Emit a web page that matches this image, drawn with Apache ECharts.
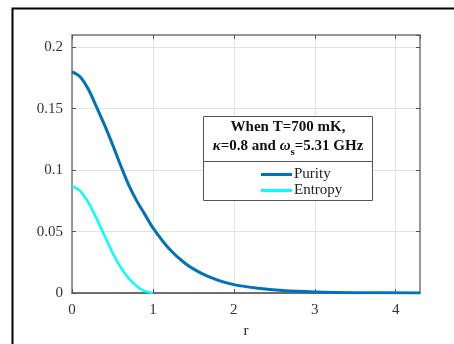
<!DOCTYPE html>
<html>
<head>
<meta charset="utf-8">
<script src="https://cdn.jsdelivr.net/npm/echarts@6/dist/echarts.min.js"></script>
<style>
  html, body { margin: 0; padding: 0; background: #fff; }
  #chart { width: 454px; height: 344px; }
</style>
</head>
<body>
<div id="chart"></div>
<script>
// values
const purityR = [0, 0.1, 0.2, 0.3, 0.4, 0.5, 0.6, 0.7, 0.8, 0.9, 1.0, 1.2, 1.4, 1.6, 1.8, 2.0, 2.3, 2.6, 3.0, 3.5, 4.3];
const purityVals = [0.18, 0.176, 0.166, 0.152, 0.137, 0.121, 0.104, 0.088, 0.075, 0.064, 0.053, 0.036, 0.024, 0.016, 0.0105, 0.0068, 0.0038, 0.002, 0.0009, 0.0003, 0.0001];
const entropyR = [0, 0.1, 0.2, 0.3, 0.4, 0.5, 0.6, 0.7, 0.8, 0.9, 1.0];
const entropyVals = [0.087, 0.083, 0.074, 0.061, 0.047, 0.033, 0.021, 0.012, 0.0055, 0.0015, 0];
const xTicks = [0, 1, 2, 3, 4];
const yTicks = [0, 0.05, 0.1, 0.15, 0.2];

const serif = '"Liberation Serif", "DejaVu Serif", serif';
const axisGray = '#7a7a7a';

const chart = echarts.init(document.getElementById('chart'));

const pairs = (xs, ys) => xs.map((x, i) => [x, ys[i]]);

const yLabel = v => yTicks.includes(+v.toFixed(4)) ? String(+v.toFixed(2)) : '';
const xLabel = v => xTicks.includes(v) ? String(v) : '';
const tick = { show: true, inside: true, length: 4, lineStyle: { color: '#555', width: 1 } };

chart.setOption({
  animation: false,
  backgroundColor: '#fff',
  grid: { left: 72, top: 35, right: 34, bottom: 46, containLabel: false },
  xAxis: [
    {
      type: 'value', min: 0, max: 4.3, interval: 1,
      name: 'r', nameLocation: 'middle', nameGap: 31,
      nameTextStyle: { fontFamily: serif, fontSize: 15, color: '#222' },
      axisLine: { onZero: false, lineStyle: { color: '#444', width: 1.5 } },
      axisTick: tick,
      axisLabel: { formatter: xLabel, fontFamily: serif, fontSize: 15, color: '#333', margin: 10, showMaxLabel: false },
      splitLine: { show: true, lineStyle: { color: '#e3e3e3', width: 1 } }
    },
    {
      type: 'value', min: 0, max: 4.3, interval: 1, position: 'top',
      axisLine: { show: true, onZero: false, lineStyle: { color: axisGray, width: 1.5 } },
      axisTick: tick,
      axisLabel: { show: false },
      splitLine: { show: false }
    }
  ],
  yAxis: [
    {
      type: 'value', min: 0, max: 0.21, interval: 0.05,
      axisLine: { show: true, onZero: false, lineStyle: { color: axisGray, width: 1.5 } },
      axisTick: tick,
      axisLabel: { formatter: yLabel, fontFamily: serif, fontSize: 15, color: '#333', margin: 9, showMaxLabel: false },
      splitLine: { show: true, lineStyle: { color: '#e3e3e3', width: 1 } }
    },
    {
      type: 'value', min: 0, max: 0.21, interval: 0.05, position: 'right',
      axisLine: { show: true, onZero: false, lineStyle: { color: axisGray, width: 1.5 } },
      axisTick: tick,
      axisLabel: { show: false },
      splitLine: { show: false }
    }
  ],
  legend: {
    orient: 'vertical',
    left: 256, top: 162, z: 10,
    itemWidth: 31, itemHeight: 3, itemGap: 1,
    icon: 'rect',
    textStyle: { fontFamily: serif, fontSize: 15, color: '#222', padding: [0, 0, 0, -3] },
    data: ['Purity', 'Entropy']
  },
  series: [
    {
      name: 'Purity', type: 'line', smooth: 0.35, showSymbol: false,
      data: pairs(purityR, purityVals),
      lineStyle: { color: '#0072BD', width: 3 },
      itemStyle: { color: '#0072BD' }
    },
    {
      name: 'Entropy', type: 'line', smooth: 0.35, showSymbol: false,
      data: pairs(entropyR, entropyVals),
      lineStyle: { color: '#00FFFF', width: 2.5 },
      itemStyle: { color: '#00FFFF' }
    }
  ],
  graphic: [
    {
      type: 'rect', z: 0, silent: true,
      shape: { x: 12.5, y: 8.5, width: 460, height: 360 },
      style: { fill: 'none', stroke: '#000', lineWidth: 2 }
    },
    {
      type: 'rect', z: 5, silent: true,
      shape: { x: 203.5, y: 116.5, width: 169, height: 84 },
      style: { fill: '#fff', stroke: '#555', lineWidth: 1 }
    },
    {
      type: 'line', z: 6, silent: true,
      shape: { x1: 203.5, y1: 161.5, x2: 372.5, y2: 161.5 },
      style: { stroke: '#555', lineWidth: 1 }
    },
    {
      type: 'text', z: 6, silent: true,
      style: {
        x: 288, y: 127, align: 'center', verticalAlign: 'middle',
        text: 'When T=700 mK,',
        font: 'bold 15px ' + serif, fill: '#111'
      }
    },
    {
      type: 'text', z: 6, silent: true,
      style: {
        x: 288, y: 146, align: 'center', verticalAlign: 'middle',
        text: '{i|κ}{b|=0.8 and }{i|ω}{s|s}{b|=5.31 GHz}',
        rich: {
          i: { font: 'italic bold 15px ' + serif, fill: '#111' },
          b: { font: 'bold 15px ' + serif, fill: '#111' },
          s: { font: 'bold 11px ' + serif, fill: '#111', padding: [12, 0, 0, 0] }
        }
      }
    }
  ]
});
</script>
</body>
</html>
